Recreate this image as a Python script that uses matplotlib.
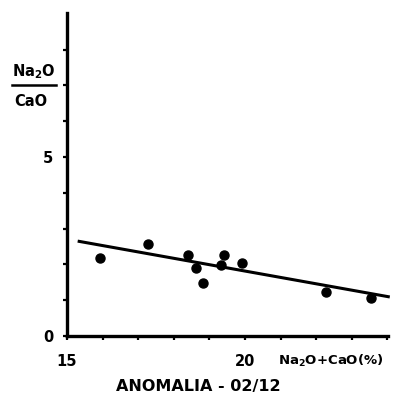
import matplotlib
matplotlib.use("Agg")
import matplotlib.pyplot as plt
from matplotlib.lines import Line2D

# Data
x_vals = [15.93, 17.28, 18.40, 18.62, 18.82, 19.41, 19.33, 19.92, 22.28, 23.54]
y_vals = [2.18, 2.57, 2.26, 1.90, 1.48, 2.26, 1.98, 2.04, 1.23, 1.06]
line_x = [15.3, 24.07]
line_y = [2.65, 1.09]
x_ticks = [15, 16, 17, 18, 19, 20, 21, 22, 23, 24]
x_tick_labels = ["15", "", "", "", "", "20", "", "", "", ""]
y_ticks = [0, 1, 2, 3, 4, 5, 6, 7, 8]
y_tick_labels = ["0", "", "", "", "", "5", "", "", ""]

W, H = 394, 403
fig = plt.figure(figsize=(W / 100, H / 100), dpi=100)
ax = fig.add_axes([67 / W, (H - 336) / H, (388 - 67) / W, (336 - 13) / H])

ax.plot(line_x, line_y, color="black", lw=2.2, solid_capstyle="butt", clip_on=False)
ax.plot(x_vals, y_vals, "o", color="black", ms=6.5, clip_on=False)

ax.set_xlim(15, 24.02)
ax.set_ylim(0, 9.02)
for s in ["top", "right"]:
    ax.spines[s].set_visible(False)
for s in ["left", "bottom"]:
    ax.spines[s].set_linewidth(2.4)
ax.set_xticks(x_ticks)
ax.set_xticklabels(x_tick_labels)
ax.set_yticks(y_ticks)
ax.set_yticklabels(y_tick_labels)
ax.tick_params(axis="both", direction="out", length=3, width=1.6, labelsize=10.5)
ax.tick_params(axis="x", pad=10)
ax.tick_params(axis="y", pad=7)
for lab in ax.get_xticklabels() + ax.get_yticklabels():
    lab.set_fontweight("bold")
ax.set_facecolor("white")

def px(x, y):
    return x / W, 1 - y / H

fig.text(*px(34, 72), "Na$_\\mathbf{2}$O", ha="center", va="center", fontsize=10.5,
         fontweight="bold")
fig.add_artist(Line2D([12 / W, 56 / W], [1 - 85 / H, 1 - 85 / H], color="black",
                      lw=1.8, transform=fig.transFigure))
fig.text(*px(31, 101), "CaO", ha="center", va="center", fontsize=10.5,
         fontweight="bold")
fig.text(*px(331, 361), "Na$_\\mathbf{2}$O+CaO(%)", ha="center", va="center",
         fontsize=9.5, fontweight="bold")
fig.text(*px(198, 386), "ANOMALIA - 02/12", ha="center", va="center",
         fontsize=11.5, fontweight="bold")

fig.savefig("out.png", dpi=100, facecolor="white")
